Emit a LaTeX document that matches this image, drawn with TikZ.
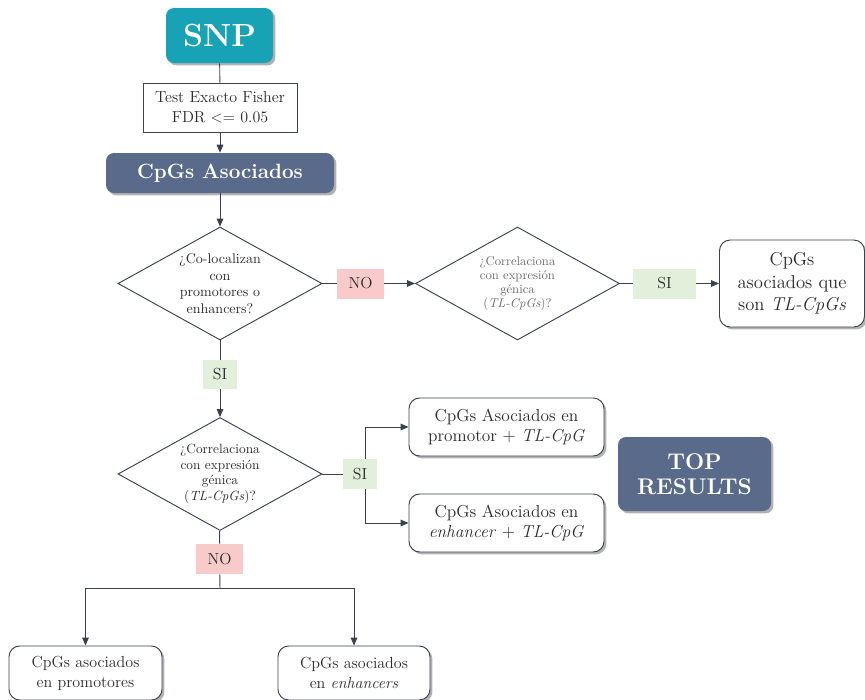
\documentclass[tikz,border=0pt]{standalone}
\usetikzlibrary{shapes.geometric,arrows.meta,shadows}
\definecolor{tealbox}{HTML}{18A2B5}
\definecolor{slate}{HTML}{5A6A8B}
\definecolor{nopink}{HTML}{F9CACA}
\definecolor{sigreen}{HTML}{E2EFDA}
\definecolor{edge}{HTML}{3A404D}
\definecolor{ink}{HTML}{2A2A2A}
\begin{document}
\begin{tikzpicture}[x=0.75pt,y=-0.75pt,
  every node/.style={text=ink},
  shade/.style={drop shadow={shadow xshift=1.8pt,shadow yshift=-1.8pt,opacity=0.3,fill=black}},
  bigbox/.style={rounded corners=6pt,fill=#1,shade,text=white,font=\bfseries,align=center,inner sep=0pt},
  plainbox/.style={draw=edge,line width=0.7pt,fill=white,align=center,inner sep=0pt},
  resbox/.style={draw=edge,line width=0.7pt,fill=white,rounded corners=8pt,shade,align=center,inner sep=0pt},
  decision/.style={diamond,draw=edge,line width=0.7pt,inner sep=0pt,minimum width=153pt,minimum height=84.75pt},
  dtext/.style={align=center,text=ink},
  tag/.style={fill=#1,inner sep=0pt,minimum height=22.5pt,font=\fontsize{12}{14}\selectfont},
  link/.style={draw=edge,line width=0.7pt},
  arrow/.style={link,-{Triangle[length=6pt,width=5pt]}}
]
\useasboundingbox (0,0) rectangle (865,700);

% start
\node[bigbox=tealbox,minimum width=80.25pt,minimum height=41.25pt,font=\fontsize{24}{28}\bfseries\selectfont] (snp) at (219.5,35.5) {SNP};
\node[plainbox,minimum width=115.5pt,minimum height=36.75pt,font=\fontsize{12}{15}\selectfont] (test) at (220,107.5) {Test Exacto Fisher\\FDR $<=$ 0.05};
\node[bigbox=slate,minimum width=171pt,minimum height=30pt,font=\fontsize{15.5}{18}\bfseries\selectfont] (asoc) at (220,173) {CpGs Asociados};

% first decision
\node[decision] (d1) at (220,283.5) {};
\node[dtext,font=\fontsize{10.5}{12.5}\selectfont] at (d1) {¿Co-localizan\\con\\promotores o\\enhancers?};
\node[tag=nopink,minimum width=35.25pt] (no1) at (360.5,283.5) {NO};

% second decision (right branch)
\node[decision] (d2) at (517.5,283.5) {};
\node[dtext,font=\fontsize{9.5}{10.6}\selectfont,text=ink!70] at (d2) {¿Correlaciona\\con expresión\\génica\\(\textit{TL-CpGs})?};
\node[tag=sigreen,minimum width=47.25pt] (si1) at (664.5,283.5) {SI};
\node[resbox,minimum width=108.75pt,minimum height=65.25pt,font=\fontsize{14}{17}\selectfont] (tl) at (792,283.5) {CpGs\\asociados que\\son \textit{TL-CpGs}};

% third decision (down branch)
\node[tag=sigreen,minimum width=25.5pt,minimum height=22pt] (si2) at (220,374.5) {SI};
\node[decision] (d3) at (220,474) {};
\node[dtext,font=\fontsize{10}{11.7}\selectfont] at (d3) {¿Correlaciona\\con expresión\\génica\\(\textit{TL-CpGs})?};
\node[tag=sigreen,minimum width=25.5pt] (si3) at (360,474) {SI};
\node[resbox,minimum width=146.25pt,minimum height=43.5pt,font=\fontsize{13}{15}\selectfont] (prom) at (506.5,427) {CpGs Asociados en\\promotor + \textit{TL-CpG}};
\node[resbox,minimum width=146.25pt,minimum height=43.5pt,font=\fontsize{13}{15}\selectfont] (enh) at (506.5,523) {CpGs Asociados en\\\textit{enhancer} + \textit{TL-CpG}};
\node[bigbox=slate,minimum width=114.75pt,minimum height=55.5pt,font=\fontsize{17}{19}\bfseries\selectfont] (top) at (694.5,474) {TOP\\RESULTS};

% last branch
\node[tag=nopink,minimum width=35.25pt] (no2) at (219.5,559) {NO};
\coordinate (split) at (220,588);
\node[resbox,minimum width=114.75pt,minimum height=40.5pt,font=\fontsize{12}{15}\selectfont] (bprom) at (85.5,673) {CpGs asociados\\en promotores};
\node[resbox,minimum width=114pt,minimum height=40.5pt,font=\fontsize{12}{15}\selectfont] (benh) at (354,673) {CpGs asociados\\en \textit{enhancers}};

% connectors
\draw[link] (snp) -- (test);
\draw[arrow] (test) -- (asoc);
\draw[arrow] (asoc) -- (d1);
\draw[link] (d1) -- (no1);
\draw[arrow] (no1) -- (d2);
\draw[link] (d2) -- (si1);
\draw[arrow] (si1) -- (tl);
\draw[link] (d1) -- (si2);
\draw[arrow] (si2) -- (d3);
\draw[link] (d3) -- (si3);
\draw[arrow] ([xshift=3.75pt]si3.north) |- (prom.west);
\draw[arrow] ([xshift=3.75pt]si3.south) |- (enh.west);
\draw[link] (d3) -- (no2);
\draw[link] (no2) -- (split);
\draw[arrow] (split) -| (bprom.north);
\draw[arrow] (split) -| (benh.north);
\end{tikzpicture}
\end{document}
